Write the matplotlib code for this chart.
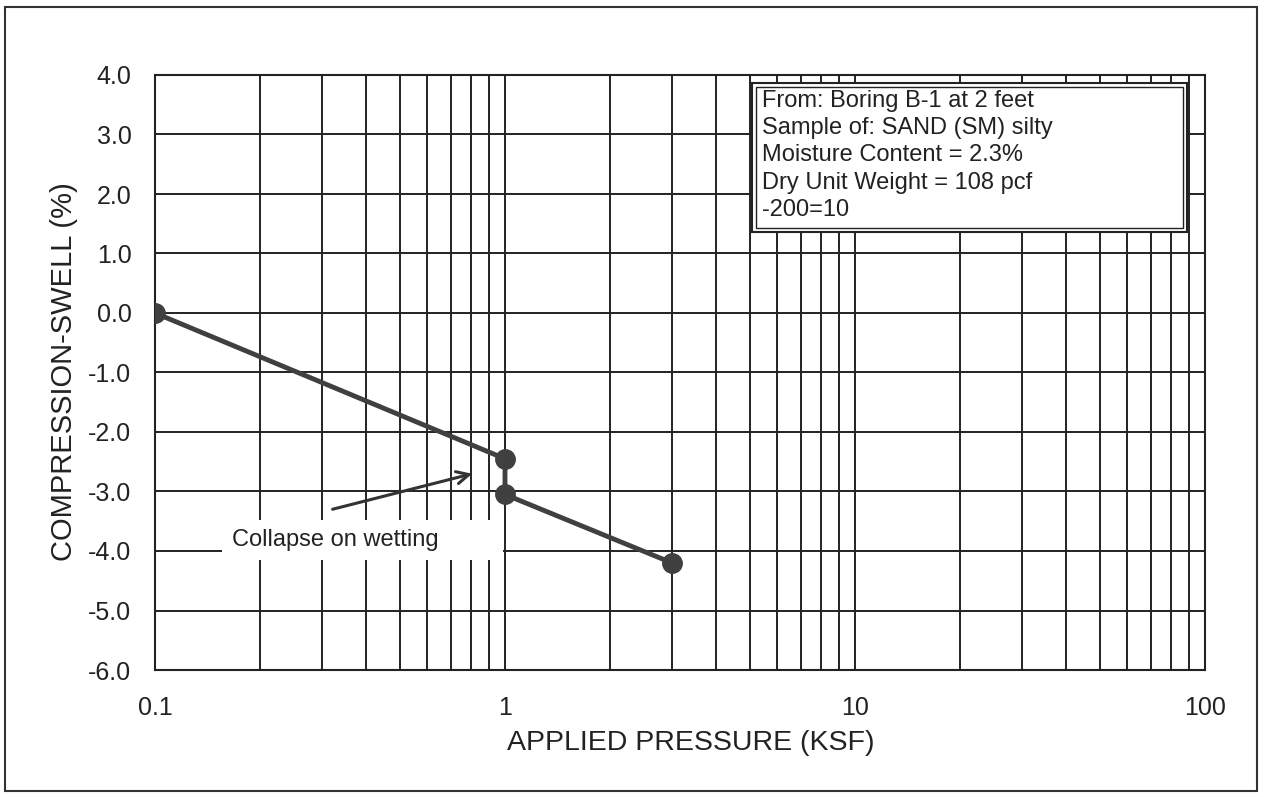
import matplotlib
matplotlib.use("Agg")
import matplotlib.pyplot as plt
from matplotlib.patches import Rectangle
from matplotlib.ticker import NullFormatter, LogLocator
import numpy as np

plt.rcParams['font.family'] = ['Liberation Sans', 'DejaVu Sans']

# Data
pressure = [0.1, 1.0, 1.0, 3.0]
strain = [0.0, -2.45, -3.05, -4.2]
x_ticks = [0.1, 1, 10, 100]
x_tick_labels = ["0.1", "1", "10", "100"]
y_ticks = [4.0, 3.0, 2.0, 1.0, 0.0, -1.0, -2.0, -3.0, -4.0, -5.0, -6.0]
y_tick_labels = ["%.1f" % v for v in y_ticks]
info_lines = ["From: Boring B-1 at 2 feet",
              "Sample of: SAND (SM) silty",
              "Moisture Content = 2.3%",
              "Dry Unit Weight = 108 pcf",
              "-200=10"]
note_text = "Collapse on wetting"

W, H = 1265, 797
fig = plt.figure(figsize=(W / 100, H / 100), dpi=100)
ax = fig.add_axes([155 / W, 1 - 670 / H, (1205 - 155) / W, (670 - 75) / H])

ax.set_xscale('log')
ax.set_xlim(0.1, 100)
ax.set_ylim(-6.0, 4.0)

ax.set_xticks(x_ticks)
ax.set_xticklabels(x_tick_labels)
ax.xaxis.set_minor_locator(LogLocator(base=10, subs=np.arange(2, 10)))
ax.xaxis.set_minor_formatter(NullFormatter())
ax.set_yticks(y_ticks)
ax.set_yticklabels(y_tick_labels)
ax.tick_params(axis='both', which='both', length=0, labelsize=18, labelcolor='#222222')
ax.tick_params(axis='y', pad=17)
ax.tick_params(axis='x', pad=19)

ax.grid(True, which='both', axis='x', color='#222222', linewidth=1.4)
ax.grid(True, which='major', axis='y', color='#222222', linewidth=1.4)
ax.set_axisbelow(True)
for s in ax.spines.values():
    s.set_linewidth(1.5)
    s.set_color('#222222')

fig.text(691 / W, 1 - 743 / H, "APPLIED PRESSURE (KSF)", fontsize=20.5,
         ha='center', va='center', color='#222222')
fig.text(64 / W, 1 - 372 / H, "COMPRESSION-SWELL (%)", fontsize=21,
         ha='center', va='center', rotation=90, color='#222222')

ax.plot(pressure, strain, color='#404040', linewidth=3.5, marker='o',
        markersize=14, markerfacecolor='#404040', markeredgecolor='#404040', zorder=5)

# white box behind note
ax.add_patch(Rectangle((0.064, 0.185), 0.267, 0.067, transform=ax.transAxes,
                       facecolor='white', edgecolor='none', zorder=3))
ax.text(0.073, 0.218, note_text, transform=ax.transAxes, fontsize=17,
        va='center', ha='left', color='#222222', zorder=4)
ax.annotate("", xy=(0.82, -2.69), xytext=(0.316, -3.31),
            arrowprops=dict(arrowstyle='->', color='#333333', lw=2.2,
                            mutation_scale=22), zorder=6)

# info box (double border)
bx0, by0, bx1, by1 = 0.5686, 0.736, 0.983, 0.9866
ax.add_patch(Rectangle((bx0, by0), bx1 - bx0, by1 - by0, transform=ax.transAxes,
                       facecolor='white', edgecolor='#222222', linewidth=1.5, zorder=6))
d = 0.004
ax.add_patch(Rectangle((bx0 + d, by0 + d * 1.7), bx1 - bx0 - 2 * d, by1 - by0 - 2 * d * 1.7,
                       transform=ax.transAxes, facecolor='none',
                       edgecolor='#222222', linewidth=1.0, zorder=7))
for i, line in enumerate(info_lines):
    ypix = 101 + 27.2 * i
    ax.text((762 - 155) / 1050, (670 - ypix) / 595, line, transform=ax.transAxes,
            fontsize=17, va='center', ha='left', color='#222222', zorder=8)

# outer frame
fig.patches.append(Rectangle((5 / W, 1 - 791 / H), (1257 - 5) / W, (791 - 7) / H,
                             transform=fig.transFigure, facecolor='none',
                             edgecolor='#333333', linewidth=1.5))

fig.savefig("out.png", dpi=100, facecolor='white')
